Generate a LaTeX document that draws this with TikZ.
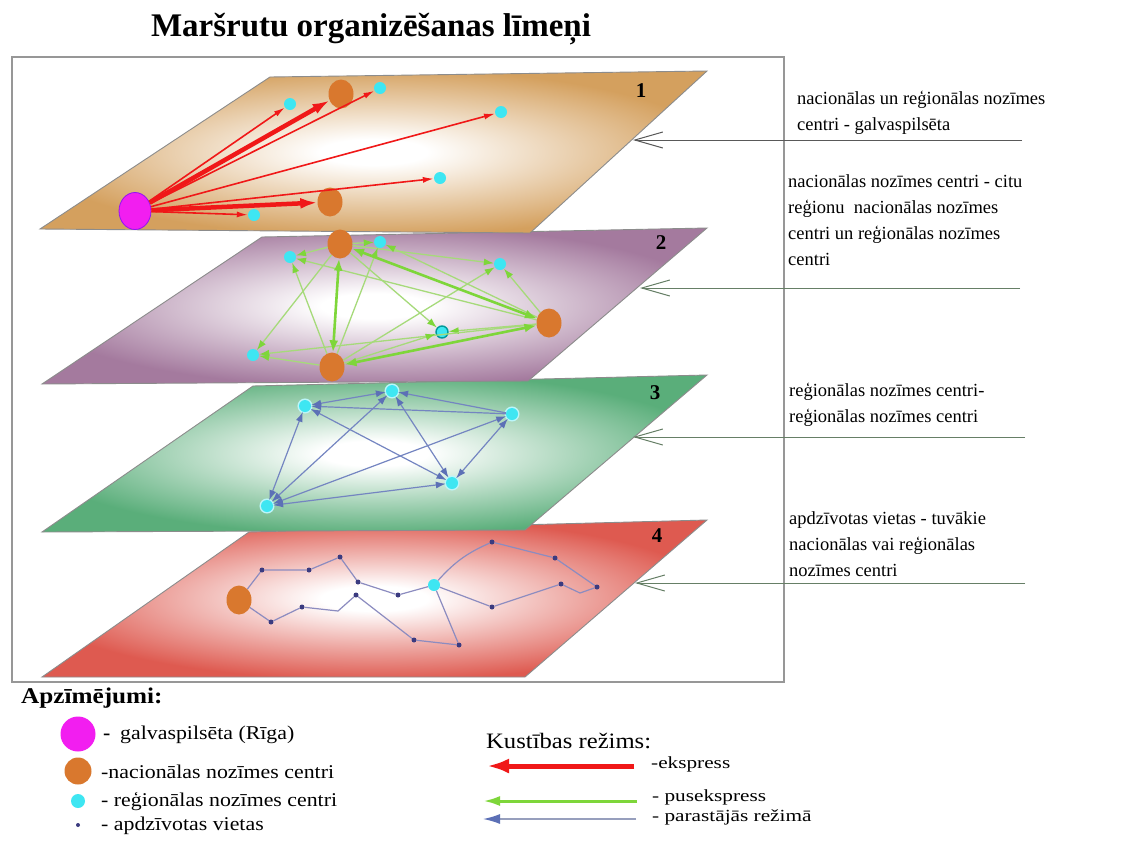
\documentclass[tikz,border=0pt]{standalone}
\usepackage{fontspec}
\setmainfont{Liberation Serif}
\newfontfamily\legfont[FakeStretch=1.12]{Liberation Serif}
\newfontfamily\legfontw[FakeStretch=1.25]{Liberation Serif}
\usetikzlibrary{arrows.meta,shapes.geometric}
\definecolor{tanC}{HTML}{D4A05E}
\definecolor{purpC}{HTML}{A47A9E}
\definecolor{greenC}{HTML}{5AAE7A}
\definecolor{redC}{HTML}{DE5A50}
\definecolor{rigaC}{HTML}{F21EF0}
\definecolor{natC}{HTML}{D9782E}
\definecolor{regC}{HTML}{3EE6F2}
\definecolor{vilC}{HTML}{3B3B80}
\definecolor{expC}{HTML}{F01818}
\definecolor{semiC}{HTML}{7ED63A}
\definecolor{semiL}{HTML}{A6DA7A}
\definecolor{ordC}{HTML}{5C70B6}
\definecolor{pathC}{HTML}{8C8CC0}
\definecolor{callC}{HTML}{667F66}
\definecolor{edgeC}{HTML}{8C8C8C}
\pgfdeclareradialshading[plc]{planeshade}{\pgfpoint{0bp}{0bp}}{color(0bp)=(white);color(4bp)=(white);color(16bp)=(plc!55!white);color(26bp)=(plc);color(50bp)=(plc)}
\tikzset{
  plane/.style={draw=edgeC, line width=0.9pt, shading=planeshade},
  riga/.style={ellipse, fill=rigaC, draw=rigaC!60!blue, line width=0.8pt, minimum width=32pt, minimum height=37pt, inner sep=0pt},
  nat/.style={ellipse, fill=natC, minimum width=25pt, minimum height=29pt, inner sep=0pt},
  reg/.style={circle, fill=regC, minimum size=12pt, inner sep=0pt},
  regglow/.style={circle, fill=regC, minimum size=12pt, inner sep=0pt, preaction={draw=regC!35, line width=3pt}},
  vil/.style={circle, fill=vilC, minimum size=5pt, inner sep=0pt},
  lvl/.style={font=\fontsize{21}{21}\selectfont\bfseries},
  exthick/.style={draw=expC, line width=4.5pt, -{Latex[length=17pt,width=11pt]}},
  exthin/.style={draw=expC, line width=1.6pt, -{Latex[length=11pt,width=6pt]}},
  semithickE/.style={draw=semiC, line width=2.6pt, {Latex[length=12pt,width=9pt]}-{Latex[length=12pt,width=9pt]}},
  semithinE/.style={draw=semiL, line width=1.3pt, -{Latex[length=10pt,width=7pt,color=semiC]}},
  ordE/.style={draw=ordC!85, line width=1.2pt, {Latex[length=10pt,width=7pt,color=ordC]}-{Latex[length=10pt,width=7pt,color=ordC]}},
  ordO/.style={draw=ordC!85, line width=1.2pt, -{Latex[length=10pt,width=7pt,color=ordC]}},
  pathE/.style={draw=pathC, line width=1.2pt},
  callout/.style={draw=callC, line width=1pt, -{Straight Barb[length=28pt,width=16pt]}},
  rtext/.style={anchor=north west, align=left, inner sep=0pt, font=\fontsize{18.5}{26}\selectfont},
  ltext/.style={anchor=west, inner sep=0pt, font=\legfont\fontsize{19.5}{22}\selectfont},
  ktext/.style={anchor=west, inner sep=0pt, font=\legfontw\fontsize{17}{18}\selectfont},
}
\begin{document}
\begin{tikzpicture}[x=1pt,y=-1pt]
\useasboundingbox[fill=white] (0,0) rectangle (1140,841);
% title
\node[font=\fontsize{33}{33}\selectfont\bfseries] (title) at (371,29) {Maršrutu organizēšanas līmeņi};
% frame
\draw[edgeC!90, line width=1.2pt] (12,57) rectangle (784,682);
% planes (bottom first)
\colorlet{plc}{redC}
\shade[plane] (42,677) -- (525,677) -- (707,520) -- (249,532) -- cycle;
\colorlet{plc}{greenC}
\shade[plane] (42,532) -- (525,530) -- (707,375) -- (253,386) -- cycle;
\colorlet{plc}{purpC}
\shade[plane] (42,384) -- (528,381) -- (707,228) -- (262,237) -- cycle;
\colorlet{plc}{tanC}
\shade[plane] (40,229) -- (530,233) -- (707,71) -- (270,77) -- cycle;
\node[lvl] (l1) at (641,91) {1};
\node[lvl] (l2) at (661,243) {2};
\node[lvl] (l3) at (655,393) {3};
\node[lvl] (l4) at (657,536) {4};

% ---------- level 1
\node[riga] (R) at (135,211) {};
\node[nat] (n1a) at (341,94) {};
\node[nat] (n1b) at (330,202) {};
\node[reg] (r1a) at (290,104) {};
\node[reg] (r1b) at (380,88) {};
\node[reg] (r1c) at (501,112) {};
\node[reg] (r1d) at (440,178) {};
\node[reg] (r1e) at (254,215) {};
\draw[exthin] (R) -- (r1a);
\draw[exthin] (R) -- (r1b);
\draw[exthin] (R) -- (r1c);
\draw[exthin] (R) -- (r1d);
\draw[exthin] (R) -- (r1e);
\draw[exthick] (R) -- (n1a);
\draw[exthick] (R) -- (n1b);

% ---------- level 2
\node[nat] (n2a) at (340,244) {};
\node[nat] (n2b) at (549,323) {};
\node[nat] (n2c) at (332,367) {};
\node[reg] (r2a) at (380,242) {};
\node[reg] (r2b) at (290,257) {};
\node[reg] (r2c) at (500,264) {};
\node[reg, draw=teal!80!cyan, line width=1.4pt] (r2d) at (442,332) {};
\node[reg] (r2e) at (253,355) {};
\draw[semithinE] (n2a) -- (r2b);
\draw[semithinE] (n2a) -- (r2a);
\draw[semithinE] (n2a) -- (r2c);
\draw[semithinE] (n2a) -- (r2e);
\draw[semithinE] (n2a) -- (r2d);
\draw[semithinE] (n2b) -- (r2c);
\draw[semithinE] (n2b) -- (r2d);
\draw[semithinE] (n2b) -- (r2a);
\draw[semithinE] (n2b) -- (r2b);
\draw[semithinE] (n2b) -- (r2e);
\draw[semithinE] (n2c) -- (r2e);
\draw[semithinE] (n2c) -- (r2d);
\draw[semithinE] (n2c) -- (r2c);
\draw[semithinE] (n2c) -- (r2a);
\draw[semithinE] (n2c) -- (r2b);
\draw[semithickE] (n2a) -- (n2c);
\draw[semithickE] (n2a) -- (n2b);
\draw[semithickE] (n2c) -- (n2b);

% ---------- level 3
\node[regglow] (r3a) at (392,391) {};
\node[regglow] (r3b) at (305,406) {};
\node[regglow] (r3c) at (512,414) {};
\node[regglow] (r3d) at (452,483) {};
\node[regglow] (r3e) at (267,506) {};
\draw[ordE] (r3a) -- (r3b);
\draw[ordO] (r3c) -- (r3a);
\draw[ordE] (r3a) -- (r3d);
\draw[ordE] (r3a) -- (r3e);
\draw[ordO] (r3c) -- (r3b);
\draw[ordE] (r3b) -- (r3d);
\draw[ordE] (r3b) -- (r3e);
\draw[ordE] (r3c) -- (r3d);
\draw[ordE] (r3e) -- (r3c);
\draw[ordE] (r3e) -- (r3d);

% ---------- level 4
\node[nat] (n4) at (239,600) {};
\node[reg] (r4) at (434,585) {};
\node[vil] (va) at (262,570) {};
\node[vil] (vb) at (309,570) {};
\node[vil] (vc) at (340,557) {};
\node[vil] (vd) at (358,582) {};
\node[vil] (ve) at (398,595) {};
\node[vil] (vl) at (492,542) {};
\node[vil] (vm) at (555,558) {};
\node[vil] (vn) at (597,587) {};
\coordinate (vo) at (580,593);
\node[vil] (vp) at (561,584) {};
\node[vil] (vq) at (492,607) {};
\node[vil] (vi) at (271,622) {};
\node[vil] (vg) at (302,607) {};
\coordinate (vh) at (338,611);
\node[vil] (vf) at (356,595) {};
\node[vil] (vj) at (414,640) {};
\node[vil] (vk) at (459,645) {};
\draw[pathE] (n4) -- (va) -- (vb) -- (vc) -- (vd) -- (ve) -- (r4);
\draw[pathE] (r4) to[bend left=12] (vl);
\draw[pathE] (vl) -- (vm) -- (vn) -- (vo) -- (vp) -- (vq) -- (r4);
\draw[pathE] (n4) -- (vi) -- (vg) -- (vh) -- (vf) -- (vj) -- (vk) -- (r4);

% ---------- callouts
\coordinate (c1t) at (633,140); \coordinate (c1e) at (1022,140);
\coordinate (c2t) at (640,288); \coordinate (c2e) at (1020,288);
\coordinate (c3t) at (633,437); \coordinate (c3e) at (1025,437);
\coordinate (c4t) at (635,583); \coordinate (c4e) at (1025,583);
\draw[callout, draw=black!65] (c1e) -- (c1t);
\draw[callout] (c2e) -- (c2t);
\draw[callout] (c3e) -- (c3t);
\draw[callout] (c4e) -- (c4t);
\node[rtext] (t1) at (797,91) {nacionālas un reģionālas nozīmes\\centri - galvaspilsēta};
\node[rtext] (t2) at (788,174) {nacionālas nozīmes centri - citu\\reģionu\ \ nacionālas nozīmes\\centri un reģionālas nozīmes\\centri};
\node[rtext] (t3) at (789,383) {reģionālas nozīmes centri-\\reģionālas nozīmes centri};
\node[rtext] (t4) at (789,511) {apdzīvotas vietas - tuvākie\\nacionālas vai reģionālas\\nozīmes centri};

% ---------- legend
\node[anchor=west, inner sep=0pt, font=\legfont\fontsize{22.5}{22}\selectfont\bfseries] (lh) at (21,698) {Apzīmējumi:};
\node[riga, draw=none, minimum width=35pt, minimum height=35pt] (lgR) at (78,734) {};
\node[nat, minimum width=27pt, minimum height=27pt] (lgN) at (78,771) {};
\node[reg, minimum size=14pt] (lgr) at (78,801) {};
\node[vil, minimum size=4pt] (lgv) at (78,825) {};
\node[ltext] (lgRt) at (103,735) {\textbf{-}\enspace galvaspilsēta (Rīga)};
\node[ltext] (lgNt) at (101,772) {-nacionālas nozīmes centri};
\node[ltext] (lgrt) at (101,802) {- reģionālas nozīmes centri};
\node[ltext] (lgvt) at (101,826) {- apdzīvotas vietas};

\node[anchor=west, inner sep=0pt, font=\legfont\fontsize{22}{22}\selectfont] (kh) at (486,741) {Kustības režims:};
\coordinate (k1s) at (634,766); \coordinate (k1e) at (487,766);
\coordinate (k2s) at (637,801); \coordinate (k2e) at (483,801);
\coordinate (k3s) at (636,819); \coordinate (k3e) at (483,819);
\draw[draw=expC, line width=5pt, -{Latex[length=22pt,width=15pt]}] (k1s) -- (k1e);
\draw[draw=semiC, line width=3pt, -{Latex[length=17pt,width=10pt]}] (k2s) -- (k2e);
\draw[draw=ordC!60!gray!70, line width=1.5pt, -{Latex[length=17pt,width=10pt,color=ordC]}] (k3s) -- (k3e);
\node[ktext] (k1t) at (651,764) {-ekspress};
\node[ktext] (k2t) at (652,797) {- pusekspress};
\node[ktext] (k3t) at (652,817) {- parastājās režimā};
\end{tikzpicture}
\end{document}
